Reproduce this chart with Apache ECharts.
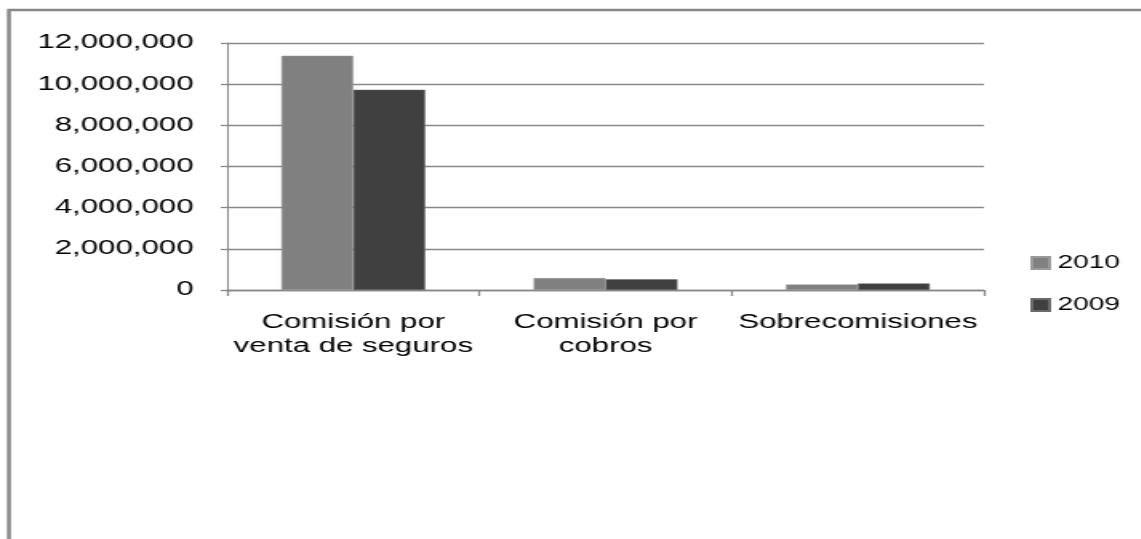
<!DOCTYPE html>
<html>
<head>
<meta charset="utf-8">
<script src="https://cdn.jsdelivr.net/npm/echarts@6/dist/echarts.min.js"></script>
<style>
  html, body {
    margin: 0;
    padding: 0;
    overflow: hidden;
    background: #fff;
  }
  /* the original picture is stretched sideways, so draw narrow and scale x */
  #chart {
    width: 713px;
    height: 539px;
    transform: scaleX(1.6);
    transform-origin: 0 0;
  }
</style>
</head>
<body>
<div id="chart"></div>
<script>
const categories = ['Comisión por\nventa de seguros', 'Comisión por\ncobros', 'Sobrecomisiones'];
const values2010 = [11380000, 580000, 270000];
const values2009 = [9730000, 520000, 320000];
const yTicks = { min: 0, max: 12000000, interval: 2000000 };

const font = '"Liberation Sans", Arial, sans-serif';

const chart = echarts.init(document.getElementById('chart'));
chart.setOption({
  animation: false,
  textStyle: { fontFamily: font },
  graphic: [{
    type: 'rect',
    shape: { x: 5.6, y: 10, width: 1000, height: 1000 },
    style: { fill: 'none', stroke: '#888', lineWidth: 2.5 }
  }],
  legend: {
    orient: 'vertical',
    left: 639,
    top: 248,
    itemWidth: 11,
    itemHeight: 12,
    itemGap: 22,
    icon: 'rect',
    textStyle: { fontSize: 17.5, color: '#000', lineHeight: 20, padding: [0, 0, 0, 0] },
    data: ['2010', '2009']
  },
  grid: {
    left: 142,
    right: 98,
    top: 43,
    bottom: 249,
    containLabel: false
  },
  xAxis: {
    type: 'category',
    data: categories,
    axisLine: { lineStyle: { color: '#888', width: 1.3 } },
    axisTick: { show: true, length: 6, lineStyle: { color: '#888', width: 1.3 } },
    axisLabel: {
      fontSize: 19.5,
      color: '#000',
      lineHeight: 24,
      margin: 21,
      interval: 0
    }
  },
  yAxis: {
    type: 'value',
    min: yTicks.min,
    max: yTicks.max,
    interval: yTicks.interval,
    axisLine: { show: true, lineStyle: { color: '#888', width: 1 } },
    axisTick: { show: true, length: 4, lineStyle: { color: '#888', width: 1.3 } },
    splitLine: { lineStyle: { color: '#888', width: 1.3 } },
    axisLabel: {
      fontSize: 19.5,
      color: '#000',
      margin: 21,
      formatter: v => v.toLocaleString('en-US')
    }
  },
  series: [{
    name: '2010',
    type: 'bar',
    data: values2010,
    barGap: '0%',
    barCategoryGap: '43%',
    itemStyle: { color: '#808080', borderColor: '#9a9a9a', borderWidth: 0.5 }
  }, {
    name: '2009',
    type: 'bar',
    data: values2009,
    itemStyle: { color: '#404040', borderColor: '#6a6a6a', borderWidth: 0.5 }
  }]
});
</script>
</body>
</html>
